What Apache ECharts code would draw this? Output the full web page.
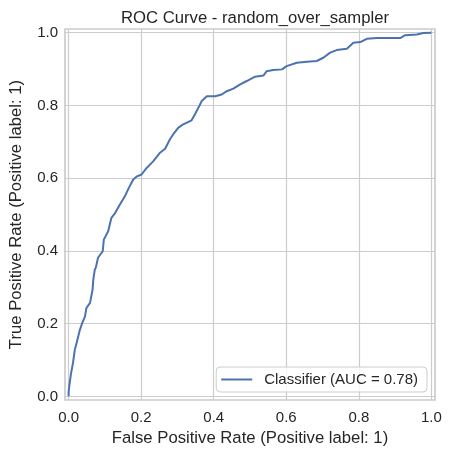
<!DOCTYPE html>
<html>
<head>
<meta charset="utf-8">
<script src="https://cdn.jsdelivr.net/npm/echarts@6/dist/echarts.min.js"></script>
<style>
html,body{margin:0;padding:0;background:#fff;}
#c{width:451px;height:457px;}
</style>
</head>
<body>
<div id="c"></div>
<script>
var chartTitle = 'ROC Curve - random_over_sampler';
var seriesName = 'Classifier (AUC = 0.78)';
var xAxisName = 'False Positive Rate (Positive label: 1)';
var yAxisName = 'True Positive Rate (Positive label: 1)';
var tickValues = [0, 0.2, 0.4, 0.6, 0.8, 1.0];

var fpr = [0.000, 0.000, 0.002, 0.006, 0.012, 0.017, 0.022, 0.023, 0.031, 0.038, 0.045, 0.049, 0.051, 0.059,
  0.066, 0.068, 0.072, 0.075, 0.081, 0.094, 0.097, 0.109, 0.118, 0.128, 0.141, 0.155, 0.164, 0.178,
  0.187, 0.201, 0.215, 0.233, 0.252, 0.266, 0.279, 0.288, 0.302, 0.316, 0.339, 0.348, 0.360, 0.367,
  0.381, 0.404, 0.422, 0.436, 0.454, 0.473, 0.491, 0.514, 0.537, 0.546, 0.564, 0.588, 0.601, 0.629,
  0.657, 0.684, 0.702, 0.721, 0.739, 0.767, 0.785, 0.804, 0.822, 0.850, 0.914, 0.928, 0.960, 0.978, 1.000];
var tpr = [0.000, 0.012, 0.030, 0.059, 0.092, 0.128, 0.147, 0.151, 0.183, 0.203, 0.219, 0.243, 0.247, 0.257,
  0.293, 0.321, 0.348, 0.354, 0.381, 0.399, 0.431, 0.454, 0.491, 0.504, 0.527, 0.550, 0.569, 0.596,
  0.604, 0.610, 0.628, 0.646, 0.670, 0.681, 0.706, 0.720, 0.738, 0.748, 0.759, 0.775, 0.798, 0.812,
  0.825, 0.825, 0.830, 0.839, 0.846, 0.858, 0.867, 0.879, 0.882, 0.894, 0.897, 0.899, 0.908, 0.917,
  0.920, 0.922, 0.931, 0.945, 0.952, 0.956, 0.972, 0.974, 0.983, 0.985, 0.985, 0.993, 0.995, 0.999, 1.000];

var FONT = 'Liberation Sans, Arial, sans-serif';
var TXT = '#262626';
var chart = echarts.init(document.getElementById('c'), null, {renderer: 'canvas'});
var points = fpr.map(function (x, i) { return [x, tpr[i]]; });

function makeAxis(name, isX) {
  return {
    type: 'value',
    min: -0.01,
    max: 1.01,
    name: name,
    nameLocation: 'middle',
    nameGap: isX ? 28 : 40,
    nameTextStyle: {fontFamily: FONT, fontSize: 16.7, color: TXT},
    axisLine: {show: false},
    axisTick: {show: false, customValues: tickValues},
    axisLabel: {
      customValues: tickValues,
      fontFamily: FONT, fontSize: 15, color: TXT,
      margin: isX ? 10 : 7,
      formatter: function (v) { return v.toFixed(1); }
    },
    splitLine: {show: true, lineStyle: {color: '#cccccc', width: 1.2}}
  };
}

chart.setOption({
  backgroundColor: '#ffffff',
  animation: false,
  title: {
    text: chartTitle,
    left: 250, textAlign: 'center',
    top: 5,
    textStyle: {fontFamily: FONT, fontSize: 16.7, fontWeight: 'normal', color: TXT}
  },
  grid: {
    left: 65, right: 16, top: 29, bottom: 57,
    outerBoundsMode: 'none',
    containLabel: false,
    show: true, borderColor: '#cccccc', borderWidth: 1.7, backgroundColor: '#ffffff'
  },
  legend: {
    right: 24, bottom: 65,
    orient: 'vertical',
    itemWidth: 31, itemHeight: 14,
    padding: [5, 9, 5, 5],
    backgroundColor: 'rgba(255,255,255,0.8)',
    borderColor: '#cccccc', borderWidth: 1, borderRadius: 4,
    textStyle: {fontFamily: FONT, fontSize: 15, color: TXT, padding: [0, 0, 0, 7]},
    data: [{name: seriesName, icon: 'path://M0,0 L31,0 L31,2 L0,2 Z'}]
  },
  xAxis: makeAxis(xAxisName, true),
  yAxis: makeAxis(yAxisName, false),
  series: [{
    name: seriesName,
    type: 'line',
    data: points,
    showSymbol: false,
    symbol: 'none',
    lineStyle: {color: '#4c72b0', width: 2},
    itemStyle: {color: '#4c72b0'}
  }]
});
</script>
</body>
</html>
